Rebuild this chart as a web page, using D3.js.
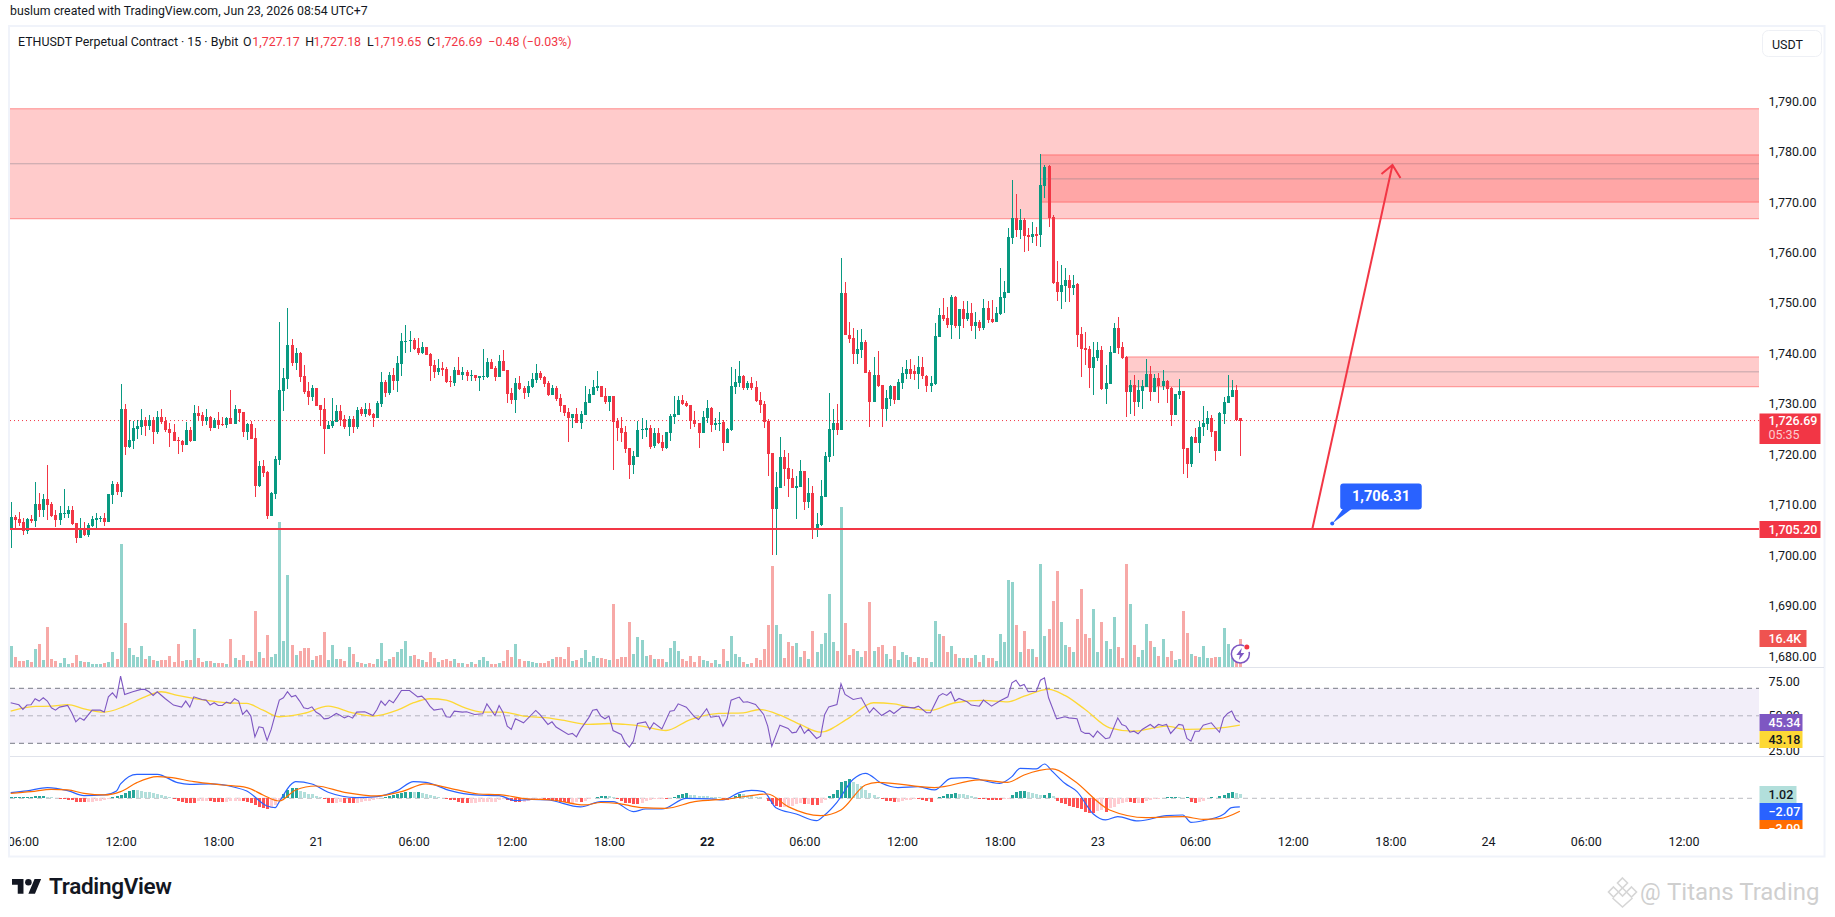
<!DOCTYPE html>
<html>
<head>
<meta charset="utf-8">
<script src="https://cdn.jsdelivr.net/npm/d3@7"></script>
<style>
  html, body { margin: 0; padding: 0; background: #fff; }
  svg { display: block; }
  text { font-family: Roboto, "Noto Sans", sans-serif; }
</style>
</head>
<body>
<svg width="1835" height="917"></svg>
<script>
// candles, 15 min
var opens = [
1705.0,1707.6,1707.2,1706.6,1704.7,1707.2,1706.8,1710.1,1708.9,1711.1,
1710.1,1708.0,1707.0,1708.2,1708.2,1708.9,1706.4,1703.4,1705.2,1704.0,
1705.8,1707.0,1707.2,1707.4,1706.6,1711.9,1714.1,1712.5,1729.0,1721.4,
1722.6,1725.0,1725.4,1726.8,1725.6,1726.8,1724.4,1727.4,1726.6,1725.0,
1724.4,1722.8,1722.6,1721.8,1724.8,1722.6,1728.2,1727.8,1726.6,1727.4,
1725.2,1726.8,1726.0,1725.8,1727.2,1726.0,1729.0,1728.4,1724.4,1726.0,
1723.2,1713.7,1717.7,1716.5,1707.8,1712.1,1718.9,1732.6,1734.9,1741.7,
1738.1,1740.1,1735.5,1732.6,1731.4,1733.2,1729.8,1729.0,1725.0,1725.6,
1726.4,1728.6,1727.0,1725.4,1727.0,1725.4,1729.0,1728.0,1729.0,1728.0,
1727.2,1730.0,1734.3,1732.2,1735.7,1734.5,1737.9,1742.3,1742.5,1742.7,
1741.1,1740.1,1741.3,1739.9,1737.7,1736.3,1737.1,1736.9,1734.5,1734.1,
1736.7,1735.7,1736.3,1735.5,1735.7,1735.1,1735.3,1735.3,1738.3,1737.1,
1735.3,1738.5,1736.7,1732.2,1730.8,1734.1,1733.2,1732.2,1733.3,1734.7,
1736.1,1735.3,1734.1,1731.8,1733.2,1731.2,1729.8,1728.4,1727.2,1728.0,
1726.2,1727.8,1730.2,1731.8,1733.2,1733.5,1731.6,1730.4,1731.6,1726.6,
1725.3,1724.4,1721.2,1717.9,1719.5,1724.8,1724.8,1725.3,1721.7,1724.2,
1722.4,1721.3,1724.2,1727.4,1727.7,1730.7,1730.2,1729.7,1726.8,1726.2,
1724.2,1727.2,1729.1,1725.8,1726.2,1726.4,1722.2,1724.8,1733.3,1734.2,
1735.5,1733.1,1734.1,1733.3,1730.7,1730.0,1726.7,1720.2,1709.2,1713.3,
1719.4,1717.3,1715.3,1713.3,1713.5,1716.7,1710.5,1712.3,1705.2,1706.0,
1711.5,1719.5,1724.8,1726.2,1724.8,1751.9,1743.7,1743.0,1739.8,1740.7,
1742.3,1736.3,1730.4,1735.7,1733.8,1729.0,1730.9,1733.6,1730.7,1734.2,
1735.9,1736.9,1736.6,1735.9,1737.3,1735.6,1733.5,1733.9,1743.2,1747.6,
1747.0,1745.6,1751.2,1745.4,1748.8,1746.8,1748.0,1745.4,1746.2,1745.0,
1749.0,1746.8,1746.2,1747.8,1751.0,1752.0,1762.9,1766.8,1764.5,1766.4,
1763.5,1763.1,1763.7,1763.5,1773.2,1777.1,1767.0,1754.2,1752.2,1753.3,
1754.5,1753.0,1753.7,1743.8,1741.1,1740.9,1737.1,1739.1,1740.7,1732.9,
1733.9,1740.1,1745.0,1741.2,1739.3,1732.3,1733.8,1730.3,1732.5,1733.3,
1735.9,1732.3,1735.1,1733.5,1734.5,1733.1,1727.7,1731.8,1732.5,1721.2,
1718.1,1723.4,1722.2,1725.4,1726.0,1727.2,1724.6,1720.6,1728.0,1730.2,
1731.4,1732.7,1727.17];
var highs = [
1710.6,1708.0,1708.6,1707.3,1707.3,1708.0,1714.6,1712.3,1712.1,1717.9,
1710.5,1708.9,1709.7,1713.1,1709.7,1709.7,1706.4,1707.4,1706.6,1706.4,
1707.8,1708.4,1707.8,1708.4,1712.1,1714.7,1714.5,1733.9,1730.0,1726.8,
1726.6,1726.8,1729.0,1727.4,1727.8,1727.4,1728.6,1729.0,1727.4,1726.2,
1726.0,1723.4,1722.8,1726.4,1725.4,1729.8,1729.6,1728.4,1729.0,1727.6,
1727.2,1728.4,1727.4,1727.4,1732.8,1729.8,1729.0,1728.4,1726.2,1726.6,
1725.2,1718.7,1718.9,1716.7,1712.5,1719.7,1746.2,1737.1,1749.0,1742.9,
1741.1,1740.3,1737.7,1734.3,1733.7,1733.2,1729.8,1731.2,1726.6,1731.2,
1729.8,1729.8,1727.8,1727.6,1727.6,1729.4,1729.4,1730.2,1730.2,1728.2,
1730.6,1736.3,1734.7,1736.3,1737.1,1739.5,1744.1,1745.6,1744.5,1743.1,
1743.1,1742.3,1741.3,1740.1,1738.7,1738.9,1738.3,1737.3,1735.5,1737.3,
1739.3,1737.3,1736.7,1736.7,1735.7,1735.5,1740.9,1739.1,1738.9,1737.5,
1739.7,1740.7,1736.7,1733.2,1735.1,1735.5,1733.5,1734.5,1736.1,1737.9,
1736.5,1735.5,1734.5,1733.7,1733.5,1732.0,1729.8,1729.2,1728.0,1729.2,
1728.6,1733.5,1733.0,1734.7,1736.5,1733.5,1733.2,1731.6,1731.6,1727.2,
1727.4,1725.6,1721.2,1720.6,1726.6,1727.2,1726.9,1725.9,1725.2,1725.2,
1723.8,1724.4,1728.0,1731.6,1731.6,1731.8,1730.6,1729.7,1728.6,1726.2,
1728.6,1730.7,1729.3,1727.2,1728.3,1726.9,1725.2,1737.3,1737.0,1738.4,
1735.7,1734.5,1735.3,1734.5,1732.3,1730.5,1727.1,1720.2,1716.5,1723.4,
1720.9,1720.3,1717.0,1715.8,1718.8,1716.7,1715.3,1713.7,1708.3,1714.9,
1720.4,1732.1,1729.0,1729.9,1759.0,1754.2,1746.2,1745.0,1744.6,1744.8,
1742.6,1736.7,1739.3,1740.5,1733.8,1732.7,1733.8,1733.6,1734.9,1737.3,
1738.6,1738.9,1737.7,1739.4,1739.3,1735.7,1735.6,1746.0,1749.0,1751.0,
1749.2,1751.6,1751.4,1748.8,1750.3,1750.3,1749.9,1748.3,1746.7,1750.8,
1750.4,1750.6,1749.2,1757.0,1754.4,1764.8,1774.3,1771.6,1768.6,1766.8,
1764.8,1766.1,1765.0,1779.6,1777.3,1777.3,1767.4,1758.3,1757.5,1757.0,
1755.6,1755.6,1754.0,1745.2,1744.2,1741.5,1742.3,1742.3,1741.4,1737.7,
1741.4,1746.0,1747.2,1742.3,1739.4,1734.7,1735.7,1734.7,1734.7,1738.9,
1737.5,1736.0,1736.1,1736.8,1734.8,1733.3,1731.9,1735.0,1732.5,1721.2,
1723.6,1725.2,1726.6,1729.5,1728.6,1727.8,1724.6,1728.4,1731.3,1735.7,
1734.7,1733.8,1727.18];
var lows = [
1701.4,1705.3,1705.8,1704.0,1704.2,1706.4,1705.6,1707.6,1707.6,1707.0,
1707.6,1705.6,1706.0,1707.4,1707.4,1706.0,1702.4,1703.4,1703.8,1703.6,
1705.6,1705.4,1706.6,1705.8,1706.6,1710.1,1711.9,1711.5,1719.9,1721.2,
1721.1,1723.0,1723.8,1723.6,1724.8,1722.0,1724.0,1726.0,1724.4,1721.4,
1722.6,1720.1,1720.5,1721.8,1722.4,1722.6,1726.8,1725.6,1725.8,1724.6,
1725.2,1725.0,1725.6,1725.2,1726.0,1726.0,1726.4,1723.4,1722.8,1723.0,
1711.5,1713.5,1715.5,1707.2,1707.8,1711.1,1717.9,1728.6,1733.0,1737.5,
1736.7,1734.3,1732.0,1729.8,1730.6,1729.6,1725.6,1720.1,1725.0,1725.2,
1726.4,1725.6,1725.0,1723.6,1724.2,1725.0,1727.6,1727.4,1727.6,1725.4,
1727.2,1729.4,1731.4,1731.8,1732.8,1732.4,1735.5,1740.1,1740.3,1740.7,
1739.7,1739.9,1739.7,1734.5,1735.1,1735.7,1735.5,1734.1,1733.4,1733.5,
1735.7,1734.7,1734.5,1734.5,1734.5,1732.6,1734.7,1735.1,1736.9,1734.5,
1735.3,1736.5,1730.2,1730.0,1728.2,1732.8,1731.0,1731.4,1733.2,1734.1,
1734.7,1733.3,1731.6,1731.8,1730.6,1728.4,1727.6,1722.4,1725.2,1726.2,
1725.0,1727.8,1730.2,1731.8,1732.6,1731.4,1730.0,1728.6,1716.9,1722.6,
1722.4,1720.3,1715.1,1716.1,1719.5,1723.1,1723.4,1721.0,1721.3,1722.0,
1720.6,1721.0,1722.7,1726.0,1727.7,1729.7,1729.3,1725.0,1725.5,1721.2,
1724.2,1726.2,1724.5,1724.8,1724.6,1720.6,1722.2,1724.6,1732.0,1733.3,
1732.8,1732.8,1732.7,1730.4,1728.1,1725.2,1715.8,1700.1,1700.0,1713.3,
1713.7,1711.6,1713.3,1707.2,1713.5,1709.0,1709.3,1703.3,1703.6,1705.8,
1711.5,1718.4,1719.6,1723.8,1724.8,1743.7,1742.1,1737.9,1738.0,1739.1,
1736.2,1725.4,1730.4,1733.3,1725.4,1726.6,1729.5,1730.0,1730.7,1733.0,
1734.9,1734.9,1734.8,1733.0,1734.9,1732.3,1732.3,1733.8,1743.2,1746.4,
1745.0,1742.8,1745.0,1742.8,1745.0,1746.4,1744.5,1742.8,1744.5,1744.6,
1746.0,1746.0,1746.2,1747.6,1748.0,1752.0,1761.7,1763.1,1762.7,1760.1,
1760.3,1761.9,1761.2,1761.0,1770.9,1765.0,1753.7,1750.3,1748.8,1750.2,
1750.1,1751.5,1741.2,1735.3,1737.7,1733.1,1731.8,1738.4,1732.7,1730.0,
1733.9,1740.1,1739.8,1738.8,1727.4,1728.0,1727.6,1729.3,1729.0,1733.3,
1730.5,1732.3,1730.2,1732.7,1730.2,1725.6,1727.7,1731.0,1716.1,1715.3,
1717.5,1722.2,1720.3,1723.6,1724.8,1723.4,1718.6,1720.6,1726.0,1730.2,
1731.4,1726.6,1719.65];
var closes = [
1707.5,1707.0,1706.4,1704.7,1707.2,1706.8,1710.1,1708.9,1711.1,1709.9,
1707.8,1707.0,1708.4,1708.4,1708.9,1706.2,1703.4,1705.0,1704.0,1706.0,
1707.2,1707.4,1707.4,1706.6,1712.1,1714.1,1712.5,1729.0,1721.4,1722.8,
1725.2,1725.6,1726.8,1725.6,1726.8,1724.4,1727.4,1726.4,1724.8,1724.2,
1722.6,1722.6,1721.8,1724.8,1722.6,1728.2,1727.6,1726.6,1727.4,1725.2,
1726.8,1725.8,1725.8,1727.2,1726.0,1729.0,1728.2,1724.4,1726.0,1723.0,
1713.7,1717.7,1716.3,1707.8,1712.3,1719.1,1732.8,1735.1,1741.7,1738.1,
1740.1,1735.3,1732.4,1731.4,1733.2,1729.6,1728.8,1725.0,1725.8,1726.6,
1728.6,1726.8,1725.4,1727.0,1725.4,1728.8,1728.0,1729.0,1727.8,1727.2,
1730.2,1734.3,1732.2,1735.7,1734.5,1738.1,1742.5,1742.5,1742.7,1740.9,
1740.1,1741.3,1739.7,1737.5,1736.3,1737.1,1736.7,1734.3,1734.3,1736.7,
1735.7,1736.3,1735.5,1735.7,1735.1,1735.5,1735.5,1738.3,1736.9,1735.3,
1738.5,1736.5,1732.0,1730.8,1734.1,1732.9,1732.2,1733.5,1734.9,1736.1,
1735.1,1733.9,1731.8,1733.2,1731.0,1729.6,1728.2,1727.2,1728.0,1726.2,
1728.0,1730.4,1732.0,1733.3,1733.5,1731.4,1730.4,1731.6,1726.4,1725.2,
1724.2,1721.1,1717.9,1719.7,1724.8,1725.0,1725.3,1721.5,1724.2,1722.2,
1721.3,1724.4,1727.6,1728.0,1730.7,1730.0,1729.5,1726.6,1726.0,1724.2,
1727.4,1729.1,1725.9,1726.2,1726.3,1722.2,1725.1,1733.5,1734.3,1735.5,
1733.1,1734.1,1733.1,1730.6,1729.7,1726.4,1720.0,1709.2,1713.5,1719.4,
1717.1,1715.1,1713.3,1713.7,1716.7,1710.5,1712.3,1705.2,1706.2,1711.7,
1719.7,1725.0,1726.2,1724.8,1751.9,1743.7,1742.8,1739.8,1740.9,1742.3,
1736.2,1730.4,1735.7,1733.6,1729.0,1731.1,1733.6,1730.7,1734.4,1736.1,
1736.9,1735.9,1735.9,1737.3,1735.5,1733.5,1734.1,1743.5,1747.6,1746.8,
1745.6,1751.2,1745.4,1748.8,1746.8,1748.0,1745.4,1746.2,1745.0,1749.0,
1746.6,1746.2,1748.0,1751.2,1752.2,1763.1,1766.8,1764.5,1766.4,1763.3,
1763.1,1763.7,1763.2,1773.4,1777.0,1766.8,1753.9,1752.2,1753.5,1754.5,
1753.0,1753.5,1743.7,1740.9,1740.7,1737.1,1739.3,1740.7,1732.9,1734.1,
1740.3,1745.0,1741.0,1739.1,1732.3,1733.8,1730.4,1732.7,1733.5,1735.9,
1732.3,1735.1,1733.5,1734.5,1733.0,1727.7,1731.9,1732.5,1721.1,1718.1,
1723.4,1722.2,1725.5,1726.2,1727.2,1724.4,1720.6,1728.2,1730.4,1731.6,
1732.7,1726.9,1726.69];

// volume in thousands, same order as the candles
var volumes = [
12.3,5.9,3.5,3.5,4.1,2.9,10.5,13.5,4.1,23.4,4.7,3.5,2.3,5.3,1.8,2.3,7.0,3.5,2.9,2.9,
1.8,1.8,1.8,2.3,2.9,8.8,4.7,72.0,25.7,11.1,7.0,5.9,12.3,4.7,6.4,4.1,3.5,4.1,4.1,6.4,
2.9,13.5,3.5,4.1,4.1,22.2,5.3,2.9,3.5,3.5,2.3,2.3,2.3,1.8,16.4,5.3,4.1,7.0,3.5,3.5,
32.8,8.8,5.3,18.7,5.9,7.6,84.8,15.2,53.8,12.9,7.0,9.4,11.1,11.1,4.1,6.4,7.0,20.5,4.1,12.9,
4.7,4.7,3.5,11.7,7.6,2.9,2.3,1.8,2.3,1.8,4.7,14.0,3.5,4.7,5.9,8.8,10.5,15.2,6.4,7.0,
4.7,4.1,2.9,8.8,5.3,2.9,4.1,4.7,3.5,4.7,2.3,2.3,1.8,2.9,1.8,4.1,5.9,3.5,1.8,1.8,
2.3,3.5,9.9,5.9,13.5,4.7,3.5,3.5,2.9,2.3,2.3,2.3,3.5,4.7,5.9,5.9,4.7,11.7,3.5,4.1,
5.3,9.9,2.9,6.4,5.3,5.3,4.7,4.1,36.9,4.7,
6.0,6.0,26.3,7.6,17.7,15.8,6.4,7.0,4.7,4.7,
4.7,2.9,11.1,15.2,9.5,4.7,3.5,6.4,2.9,6.4,
4.1,3.5,2.3,4.1,1.6,10.5,3.5,18.1,7.6,6.0,
2.9,1.6,2.3,5.3,4.1,10.5,24.7,59.2,24.7,19.3,
5.3,14.6,12.3,13.9,6.0,9.5,4.7,21.0,8.8,13.6,
20.0,42.8,14.6,9.5,93.8,25.7,7.0,10.5,9.5,6.0,
9.5,38.0,9.5,11.7,13.0,7.6,4.7,12.3,4.1,8.8,
7.0,6.0,2.9,6.0,5.3,5.3,2.9,26.9,19.3,18.1,
8.8,12.3,7.6,5.3,5.3,5.3,5.3,7.0,2.9,7.0,
5.3,5.3,3.5,19.3,14.6,51.0,49.8,24.7,8.8,21.0,
10.5,10.5,6.0,60.4,18.1,22.2,38.6,56.3,26.3,13.0,
11.7,8.8,28.1,45.6,19.3,17.0,33.9,8.8,26.3,15.2,
10.5,29.4,11.7,5.3,60.4,37.0,13.0,6.0,9.9,25.3,
15.2,11.7,6.4,16.5,6.0,9.5,4.1,4.7,32.9,20.0,
7.6,6.4,6.0,12.3,5.3,5.3,6.0,6.0,22.8,13.6,
5.3,6.4,16.4];

// RSI and its average, candle number and value at the corners of the line
var rsiIdx = [
0,2,3,4,5,6,7,8,9,10,11,12,14,15,16,17,18,20,22,23,24,25,26,27,28,30,32,33,34,35,
36,38,40,42,43,44,45,47,48,49,50,51,52,53,54,55,56,57,58,59,60,61,62,63,64,65,66,67,68,69,
70,71,72,73,74,75,76,77,78,79,80,81,82,83,84,85,87,89,90,91,92,93,94,95,96,98,100,101,102,103,
104,106,107,108,109,111,112,114,116,117,119,120,121,122,123,124,126,129,130,132,133,134,137,138,139,140,142,143,144,
145,146,147,148,150,151,152,153,154,156,157,158,160,162,163,164,166,168,169,171,172,174,175,176,177,179,180,181,183,185,
186,187,189,191,192,193,194,195,196,198,199,200,201,203,204,205,207,209,211,212,214,216,217,219,222,223,225,226,228,229,
230,231,232,233,235,236,238,239,241,243,245,246,247,248,249,250,252,253,254,255,257,259,260,262,263,264,265,266,267,269,
270,272,273,274,275,276,277,278,280,281,282,283,284,285,287,288,289,290,291,292,293,295,296,297,298,299,300,301,302];
var rsiVal = [
59.5,58.0,54.6,57.8,58.0,62.4,60.7,63.1,60.7,55.8,54.1,56.3,57.5,52.2,45.6,48.5,46.8,54.1,54.1,52.7,63.8,66.7,63.1,78.8,65.5,67.5,69.2,69.2,67.5,64.8,
67.5,62.4,57.8,56.3,60.7,56.3,63.8,61.9,61.4,57.8,59.5,57.5,57.5,59.9,59.0,62.4,60.7,51.0,54.1,49.8,34.7,42.0,41.3,32.1,40.1,51.0,61.4,63.1,67.5,63.8,
64.8,60.7,55.8,55.1,56.5,52.7,51.0,47.8,48.1,49.8,51.7,50.2,48.5,49.8,48.3,52.7,52.9,50.2,54.6,60.7,57.5,61.4,59.5,63.8,68.4,68.4,63.8,64.3,61.4,57.0,
54.1,55.1,49.3,49.0,53.4,52.7,52.9,51.0,51.5,58.7,50.2,57.5,52.2,42.5,40.1,47.8,44.9,53.9,51.0,43.7,45.6,41.8,36.4,37.2,34.7,40.1,48.5,54.1,54.6,
49.8,47.8,49.8,39.3,36.4,30.4,27.2,31.6,44.4,45.6,40.1,44.9,40.5,53.4,53.9,58.7,56.3,49.3,47.3,55.1,49.0,49.8,42.5,47.8,61.4,63.6,59.9,60.2,58.2,51.0,
42.5,27.9,43.2,40.8,37.6,38.1,43.0,37.2,40.1,33.5,35.2,51.0,56.5,58.2,73.3,65.5,61.9,63.1,52.2,55.8,50.2,53.9,51.7,56.3,55.8,57.0,52.2,52.2,64.3,66.2,
64.8,67.5,60.7,62.6,60.2,57.8,57.0,61.4,57.0,60.7,63.8,74.0,75.9,71.6,72.8,67.5,67.9,75.9,77.6,63.1,47.8,49.3,48.5,47.8,38.8,37.2,37.2,34.5,38.8,33.3,
34.0,48.5,43.7,42.5,38.1,38.8,36.9,40.1,43.7,41.3,43.7,43.0,43.7,37.2,43.7,43.2,33.5,31.6,38.8,38.8,43.2,44.9,41.3,38.1,48.5,51.7,53.4,47.3,45.34];
var rsiMaIdx = [0,6,10,14,18,23,28,33,37,41,48,53,58,62,66,72,78,84,89,95,99,103,107,111,116,121,126,132,136,142,
147,151,155,161,167,174,180,184,189,194,199,206,212,217,223,226,232,239,245,249,255,259,264,270,276,284,289,296,302];
var rsiMaVal = [53.4,56.8,57.0,58.2,55.1,52.7,57.0,63.8,67.5,64.8,61.2,59.5,59.0,54.1,49.3,51.7,57.0,52.2,49.8,54.1,59.5,62.4,61.4,56.5,52.7,52.7,49.8,48.5,46.6,43.7,
44.4,43.7,42.5,39.3,47.3,51.7,52.2,54.6,50.5,43.7,38.1,48.5,59.5,58.7,54.6,53.9,59.5,61.2,60.2,64.3,69.2,64.8,54.6,41.3,38.8,42.5,40.1,40.8,43.18];

// MACD and signal, same way
var macdIdx = [0,4,9,14,18,23,26,27,31,36,41,44,49,55,58,63,65,66,69,70,74,78,85,90,95,99,102,108,114,120,124,128,132,140,145,
148,153,156,160,166,172,175,179,182,185,188,193,198,200,203,207,210,214,218,223,227,231,235,243,246,248,252,254,256,259,262,266,269,272,277,284,288,290,293,298,300,302];
var macdVal = [1.35,1.75,2.55,1.83,0.64,0.80,1.75,3.42,5.73,5.73,3.74,3.34,3.42,2.63,1.75,-1.83,-2.23,-0.80,3.42,3.98,3.42,1.43,0.16,0.40,1.83,3.98,3.82,1.83,0.80,0.64,-0.56,-0.24,-0.40,-2.07,-0.80,
-0.80,-3.18,-2.55,-2.55,0,-0.16,-0.40,1.35,1.91,1.59,-2.23,-3.74,-5.33,-3.98,-0.95,4.53,5.97,3.58,2.55,2.78,1.99,4.77,4.93,3.58,5.17,7.16,7.00,8.19,6.36,3.58,1.59,-3.74,-5.17,-4.38,-5.41,-4.14,-3.98,-5.73,-5.33,-3.82,-2.23,-2.07];
var signalIdx = [0,5,10,14,18,23,27,31,36,39,45,52,58,62,66,70,75,82,90,96,102,108,115,120,127,133,141,145,149,155,161,168,176,186,191,199,204,210,213,227,238,245,249,256,261,270,279,288,293,297,302];
var signalVal = [1.19,1.59,2.15,1.99,1.19,0.80,1.59,3.74,5.17,5.01,3.98,3.18,2.55,0.80,-0.64,1.99,2.94,1.43,0.56,1.59,3.42,2.39,1.03,0.88,-0.16,-0.40,-1.59,-1.00,-1.19,-2.23,-2.39,-0.80,-0.16,1.03,-1.99,-4.14,-2.78,3.18,3.82,2.55,4.38,3.82,5.57,7.00,4.38,-2.78,-4.61,-4.38,-5.01,-4.85,-3.09];
var hist = [
0.24,0.24,0.24,0.24,0.24,0.32,0.56,0.56,0.56,0.40,
0.24,0.08,-0.08,-0.24,-0.32,-0.40,-0.80,-0.88,-0.95,-0.88,
-0.80,-0.72,-0.56,-0.48,-0.16,0.24,0.48,0.80,1.35,1.67,
1.99,1.91,1.75,1.59,1.51,1.27,1.03,0.80,0.56,0.24,
-0.16,-0.64,-0.88,-1.03,-1.11,-1.15,-0.72,-0.70,-0.64,-0.72,
-0.80,-0.82,-0.88,-0.86,-0.72,-0.64,-0.62,-0.66,-0.95,-1.19,
-1.59,-1.99,-2.23,-2.55,-2.23,-1.59,-0.48,1.11,1.99,2.39,
2.42,1.75,1.43,1.11,0.95,0.64,0.32,-0.24,-1.11,-1.19,
-1.03,-0.95,-1.03,-1.11,-1.19,-1.03,-0.88,-0.72,-0.56,-0.32,
-0.16,0.16,0.24,0.64,0.80,0.95,1.27,1.43,1.59,1.51,
1.60,1.19,0.95,0.72,0.48,0.32,0.08,-0.16,-0.32,-0.48,
-0.80,-1.03,-1.19,-1.15,-1.03,-0.95,-0.93,-0.90,-0.88,-0.80,
-0.48,-0.24,-0.40,-0.56,-0.80,-0.88,-0.80,-0.56,-0.40,-0.24,
-0.16,-0.24,-0.40,-0.56,-0.72,-0.80,-0.95,-1.11,-1.03,-0.88,
-0.95,-0.72,-0.24,0.16,0.40,0.48,0.64,0.56,0.40,-0.16,
-0.64,-1.03,-1.19,-1.35,-1.43,-1.19,-0.72,-0.40,-0.24,-0.16,
-0.08,-0.08,0.16,0.40,0.72,0.95,1.27,0.88,0.72,0.56,
0.54,0.48,0.40,0.32,0.24,-0.16,-0.48,0.16,0.64,1.11,
0.95,0.64,0.48,0.32,0.24,0.08,-0.64,-1.43,-1.75,-2.15,
-2.07,-1.91,-1.75,-1.43,-1.19,-1.43,-1.35,-1.59,-1.67,-1.11,
-0.32,0.48,1.11,1.91,3.82,4.15,4.53,3.98,3.50,2.94,
1.99,1.19,0.80,0.24,-0.24,-0.64,-0.72,-0.88,-0.80,-0.56,
-0.40,-0.32,-0.24,-0.24,-0.40,-0.56,-0.80,0.08,0.24,0.64,
1.03,1.11,1.19,1.11,0.95,0.80,0.56,0.24,-0.16,-0.24,
-0.32,-0.34,-0.40,-0.42,-0.24,-0.08,0.88,1.51,1.67,1.75,
1.43,1.19,1.03,0.72,0.88,1.19,0.48,-0.64,-1.11,-1.43,
-1.83,-2.07,-2.39,-2.63,-3.34,-3.50,-3.58,-3.10,-2.90,-3.34,
-2.39,-1.99,-1.43,-1.11,-0.80,-0.88,-1.11,-1.03,-1.11,-0.72,
-0.48,-0.24,-0.08,0.16,0.32,0.32,0.32,0.24,0.08,0.24,
-0.80,-1.03,-0.95,-0.56,0.08,0.24,0.08,0.64,0.80,1.19,
1.43,1.19,1.02];

var priceTicks = d3.range(1680, 1800, 10);
var rsiTicks = [75, 50, 25];
var timeTicks = [3, 27, 51, 75, 99, 123, 147, 171, 195, 219, 243, 267, 291, 315, 339, 363, 387, 411];
var timeLabels = ['06:00','12:00','18:00','21','06:00','12:00','18:00','22','06:00','12:00','18:00','23','06:00','12:00','18:00','24','06:00','12:00'];

// zones: [bottom, middle, top, first candle]
var zones = [[1766.7, 1777.6, 1788.5, -3], [1770.0, 1774.6, 1779.35, 253], [1733.4, 1736.35, 1739.3, 274]];
var lastPrice = 1726.69;
var supportPrice = 1705.20;
var arrowFrom = [319.8, 1705.2];
var arrowTo = [339.5, 1777.35];
var calloutAt = [324.7, 1706.31];

var UP = '#089981', DOWN = '#f23645';
var LEFT = 10, RIGHT = 1759;

var svg = d3.select('svg');
var defs = svg.append('defs');
defs.append('clipPath').attr('id', 'plot').append('rect').attr('x', LEFT).attr('y', 26).attr('width', RIGHT - LEFT).attr('height', 804);
defs.append('clipPath').attr('id', 'boxes').append('rect').attr('x', RIGHT).attr('y', 26).attr('width', 70).attr('height', 803);
defs.append('clipPath').attr('id', 'times').append('rect').attr('x', LEFT).attr('y', -6).attr('width', 1800).attr('height', 26);

var x = d3.scaleLinear().domain([0, 302]).range([10.7, 10.7 + 302 * 4.07]);
var y = d3.scaleLinear().domain([1680, 1790]).range([656.1, 101.2]);
var yVol = d3.scaleLinear().domain([0, 100]).range([667, 667 - 170.7]);
var yRsi = d3.scaleLinear().domain([30, 70]).range([743.3, 688.3]);
var yMacd = d3.scaleLinear().domain([-5, 5]).range([798.3 + 20.95, 798.3 - 20.95]);

// frame and pane lines
svg.append('rect').attr('x', 9).attr('y', 26).attr('width', 1815.5).attr('height', 830.5)
  .attr('fill', 'none').attr('stroke', '#f0f3fa').attr('stroke-width', 2);
svg.selectAll('.sep').data([667.5, 756.5]).enter().append('line').attr('class', 'sep')
  .attr('x1', LEFT).attr('x2', 1824).attr('y1', function(d) { return d; }).attr('y2', function(d) { return d; })
  .attr('stroke', '#e0e3eb').attr('stroke-width', 1);

var plot = svg.append('g').attr('clip-path', 'url(#plot)');

// zones go under the candles
zones.forEach(function(z) {
  var zx = x(z[3]);
  plot.append('rect').attr('x', zx).attr('width', RIGHT - zx)
    .attr('y', y(z[2])).attr('height', y(z[0]) - y(z[2]))
    .attr('fill', 'rgba(255,82,82,0.3)');
  [z[0], z[2]].forEach(function(p) {
    plot.append('line').attr('x1', zx).attr('x2', RIGHT).attr('y1', y(p)).attr('y2', y(p))
      .attr('stroke', 'rgba(255,82,82,0.6)').attr('stroke-width', 1);
  });
  plot.append('line').attr('x1', zx).attr('x2', RIGHT).attr('y1', y(z[1])).attr('y2', y(z[1]))
    .attr('stroke', 'rgba(120,123,134,0.45)').attr('stroke-width', 1);
});

plot.append('line').attr('x1', LEFT).attr('x2', RIGHT).attr('y1', y(lastPrice)).attr('y2', y(lastPrice))
  .attr('stroke', DOWN).attr('stroke-width', 1).attr('stroke-dasharray', '1,3');

// volume
plot.append('g').attr('shape-rendering', 'crispEdges').selectAll('rect').data(volumes).enter().append('rect')
  .attr('x', function(d, i) { return Math.round(x(i)) - 1.5; })
  .attr('width', 3)
  .attr('y', function(d) { return yVol(d); })
  .attr('height', function(d) { return yVol(0) - yVol(d); })
  .attr('fill', function(d, i) { return closes[i] >= opens[i] ? '#92d3cc' : '#f7a9a7'; });

// candles
var candles = plot.append('g').attr('shape-rendering', 'crispEdges').selectAll('g').data(opens).enter().append('g')
  .attr('fill', function(d, i) { return closes[i] >= d ? UP : DOWN; });
candles.append('rect')
  .attr('x', function(d, i) { return Math.round(x(i)) - 0.5; })
  .attr('width', 1)
  .attr('y', function(d, i) { return y(highs[i]); })
  .attr('height', function(d, i) { return y(lows[i]) - y(highs[i]); });
candles.append('rect')
  .attr('x', function(d, i) { return Math.round(x(i)) - 1.5; })
  .attr('width', 3)
  .attr('y', function(d, i) { return y(Math.max(d, closes[i])); })
  .attr('height', function(d, i) { return Math.max(1, Math.abs(y(d) - y(closes[i]))); });

// support line, arrow, callout
plot.append('line').attr('x1', LEFT).attr('x2', RIGHT).attr('y1', y(supportPrice)).attr('y2', y(supportPrice))
  .attr('stroke', DOWN).attr('stroke-width', 2);

var ax0 = x(arrowFrom[0]), ay0 = y(arrowFrom[1]), ax1 = x(arrowTo[0]), ay1 = y(arrowTo[1]);
plot.append('line').attr('x1', ax0).attr('y1', ay0).attr('x2', ax1).attr('y2', ay1)
  .attr('stroke', DOWN).attr('stroke-width', 2);
plot.append('path').attr('d', 'M' + (ax1 - 11) + ',' + (ay1 + 9) + 'L' + ax1 + ',' + ay1 + 'L' + (ax1 + 8) + ',' + (ay1 + 13))
  .attr('fill', 'none').attr('stroke', DOWN).attr('stroke-width', 2);

var cx = x(calloutAt[0]), cy = y(calloutAt[1]);
plot.append('path').attr('d', 'M' + cx + ',' + cy + 'L' + (cx + 11) + ',' + (cy - 15) + 'L' + (cx + 20) + ',' + (cy - 15) + 'Z').attr('fill', '#2962ff');
plot.append('circle').attr('cx', cx).attr('cy', cy).attr('r', 2).attr('fill', '#2962ff');
plot.append('rect').attr('x', cx + 8).attr('y', cy - 40).attr('width', 81.5).attr('height', 26).attr('rx', 3).attr('fill', '#2962ff');
plot.append('text').attr('x', cx + 48.8).attr('y', cy - 27).attr('dy', '0.35em').attr('text-anchor', 'middle')
  .attr('fill', '#fff').attr('font-size', 14.6).attr('font-weight', 700).text('1,706.31');

// the small purple badge over the last volume bars
var badge = plot.append('g').attr('transform', 'translate(' + (x(302) + 0.5) + ',654)');
badge.append('circle').attr('r', 9).attr('fill', '#fff').attr('stroke', '#7e57c2').attr('stroke-width', 1.5).attr('stroke-dasharray', '46,8');
badge.append('path').attr('d', 'M1.5,-6 L-4,1 L-0.5,1 L-1.5,6 L4,-1 L0.5,-1 Z').attr('fill', '#7e57c2');
badge.append('circle').attr('cx', 6.5).attr('cy', -7).attr('r', 2.5).attr('fill', DOWN);

// RSI pane
plot.append('rect').attr('x', LEFT).attr('width', RIGHT - LEFT).attr('y', yRsi(70)).attr('height', yRsi(30) - yRsi(70))
  .attr('fill', 'rgba(126,87,194,0.1)');
plot.selectAll('.lvl').data([70, 50, 30]).enter().append('line').attr('class', 'lvl')
  .attr('x1', LEFT).attr('x2', RIGHT).attr('y1', function(d) { return yRsi(d); }).attr('y2', function(d) { return yRsi(d); })
  .attr('stroke', '#787b86').attr('stroke-opacity', function(d) { return d == 50 ? 0.5 : 1; }).attr('stroke-dasharray', '5,4');

function pointLine(scale, idx, curve) {
  return d3.line().curve(curve).x(function(d, i) { return x(idx[i]); }).y(function(d) { return scale(d); });
}
plot.append('path').datum(rsiMaVal).attr('d', pointLine(yRsi, rsiMaIdx, d3.curveMonotoneX)).attr('fill', 'none').attr('stroke', '#fdd835').attr('stroke-width', 1.3);
plot.append('path').datum(rsiVal).attr('d', pointLine(yRsi, rsiIdx, d3.curveLinear)).attr('fill', 'none').attr('stroke', '#7e57c2').attr('stroke-width', 1.1);

// MACD pane
plot.append('line').attr('x1', LEFT).attr('x2', RIGHT - 3).attr('y1', yMacd(0)).attr('y2', yMacd(0))
  .attr('stroke', '#787b86').attr('stroke-opacity', 0.5).attr('stroke-dasharray', '5,4');
plot.append('g').attr('shape-rendering', 'crispEdges').selectAll('rect').data(hist).enter().append('rect')
  .attr('x', function(d, i) { return Math.round(x(i)) - 1.5; })
  .attr('width', 3)
  .attr('y', function(d) { return Math.min(yMacd(d), yMacd(0)); })
  .attr('height', function(d) { return Math.abs(yMacd(d) - yMacd(0)); })
  .attr('fill', function(d, i) {
    var prev = i > 0 ? hist[i - 1] : d;
    if (d >= 0) return d >= prev ? '#26a69a' : '#b2dfdb';
    return d <= prev ? '#ff5252' : '#ffcdd2';
  });
plot.append('path').datum(macdVal).attr('d', pointLine(yMacd, macdIdx, d3.curveMonotoneX)).attr('fill', 'none').attr('stroke', '#2962ff').attr('stroke-width', 1.2);
plot.append('path').datum(signalVal).attr('d', pointLine(yMacd, signalIdx, d3.curveMonotoneX)).attr('fill', 'none').attr('stroke', '#ff6d00').attr('stroke-width', 1.2);

// axes
function styleAxis(g) {
  g.select('.domain').remove();
  g.selectAll('text').attr('fill', '#131722').attr('font-size', 12.5).attr('font-family', 'Roboto');
}
svg.append('g').attr('transform', 'translate(' + RIGHT + ',0)')
  .call(d3.axisRight(y).tickValues(priceTicks).tickSize(0).tickPadding(9.5).tickFormat(d3.format(',.2f'))).call(styleAxis);
svg.append('g').attr('transform', 'translate(' + RIGHT + ',0)')
  .call(d3.axisRight(yRsi).tickValues(rsiTicks).tickSize(0).tickPadding(9.5).tickFormat(d3.format('.2f'))).call(styleAxis);
var timeAxis = svg.append('g').attr('transform', 'translate(0,837)').attr('clip-path', 'url(#times)')
  .call(d3.axisBottom(x).tickValues(timeTicks).tickSize(0).tickPadding(0).tickFormat(function(d, i) { return timeLabels[i]; })).call(styleAxis);
timeAxis.selectAll('text').attr('font-weight', function(d, i) { return timeLabels[i] == '22' ? 700 : 400; });

// price labels on the axis
var boxes = svg.append('g').attr('clip-path', 'url(#boxes)');
function axisBox(y0, y1, wide, fill, color, label) {
  boxes.append('rect').attr('x', RIGHT + 0.5).attr('y', y0).attr('width', wide).attr('height', y1 - y0).attr('fill', fill);
  boxes.append('text').attr('x', RIGHT + 9.5).attr('y', (y0 + y1) / 2).attr('dy', '0.35em')
    .attr('font-size', 12.5).attr('font-weight', 500).attr('fill', color).text(label);
}
axisBox(413.5, 444, 61, DOWN, '#fff', '');
boxes.append('text').attr('x', RIGHT + 9.5).attr('y', 421).attr('dy', '0.35em').attr('font-size', 12.5).attr('font-weight', 500).attr('fill', '#fff').text('1,726.69');
boxes.append('text').attr('x', RIGHT + 9.5).attr('y', 435).attr('dy', '0.35em').attr('font-size', 12.5).attr('fill', 'rgba(255,255,255,0.75)').text('05:35');
axisBox(521, 538, 61, DOWN, '#fff', '1,705.20');
axisBox(630, 647, 47, '#ef5350', '#fff', '16.4K');
axisBox(714, 731, 43, '#7e57c2', '#fff', '45.34');
axisBox(731, 748, 43, '#fdd835', '#131722', '43.18');
axisBox(786, 803, 37, '#b2dfdb', '#131722', '1.02');
axisBox(803, 820, 43, '#2962ff', '#fff', '\u22122.07');
axisBox(820, 837, 43, '#ff6d00', '#fff', '\u22123.09');

// USDT button
svg.append('rect').attr('x', 1762.5).attr('y', 30.5).attr('width', 59).attr('height', 26).attr('rx', 6).attr('fill', '#fff').attr('stroke', '#eef0f5');
svg.append('text').attr('x', 1772).attr('y', 45).attr('dy', '0.35em').attr('font-size', 12.5).attr('fill', '#131722').text('USDT');

// header texts
svg.append('text').attr('x', 10).attr('y', 15).attr('font-size', 12.3).attr('fill', '#131722')
  .text('buslum created with TradingView.com, Jun 23, 2026 08:54 UTC+7');

var legendX = [18, 243, 252.3, 305.3, 313.6, 367, 373.7, 427, 435, 488.3];
var legendTexts = ['ETHUSDT Perpetual Contract \u00b7 15 \u00b7 Bybit', 'O', '1,727.17', 'H', '1,727.18', 'L', '1,719.65', 'C', '1,726.69', '\u22120.48 (\u22120.03%)'];
var legendRed = [false, false, true, false, true, false, true, false, true, true];
svg.selectAll('.legend').data(legendTexts).enter().append('text').attr('class', 'legend')
  .attr('x', function(d, i) { return legendX[i]; }).attr('y', 46).attr('font-size', 12.4)
  .attr('fill', function(d, i) { return legendRed[i] ? DOWN : '#131722'; })
  .text(function(d) { return d; });

// TradingView mark, bottom left
var logo = svg.append('g').attr('transform', 'translate(12,875.7) scale(0.82)').attr('fill', '#131722');
logo.append('path').attr('d', 'M14 22H7V11H0V4h14v18zM28 22h-8l7.5-18h8L28 22z');
logo.append('circle').attr('cx', 20).attr('cy', 8).attr('r', 4);
svg.append('text').attr('x', 49).attr('y', 894).attr('font-family', 'Inter').attr('font-size', 22.5).attr('font-weight', 600)
  .attr('letter-spacing', -0.3).attr('fill', '#131722').text('TradingView');

// watermark, bottom right
var wm = svg.append('g').attr('transform', 'translate(1622.5,892)').attr('fill', 'none').attr('stroke', '#d6d6d6').attr('stroke-width', 1.6);
[[0, -9, 5], [-9, 0, 5], [9, 0, 5], [0, 0, 4]].forEach(function(p) {
  wm.append('path').attr('d', 'M' + p[0] + ',' + (p[1] - p[2]) + 'l' + p[2] + ',' + p[2] + 'l' + (-p[2]) + ',' + p[2] + 'l' + (-p[2]) + ',' + (-p[2]) + 'Z');
});
wm.append('path').attr('d', 'M-10,6 L0,15 L10,6');
svg.append('text').attr('x', 1640).attr('y', 900).attr('font-family', 'Open Sans').attr('font-size', 23).attr('fill', '#cfcfcf').text('@');
svg.append('text').attr('x', 1667).attr('y', 900).attr('font-family', 'Open Sans').attr('font-size', 24).attr('fill', '#cfcfcf').text('Titans Trading');
</script>
</body>
</html>
